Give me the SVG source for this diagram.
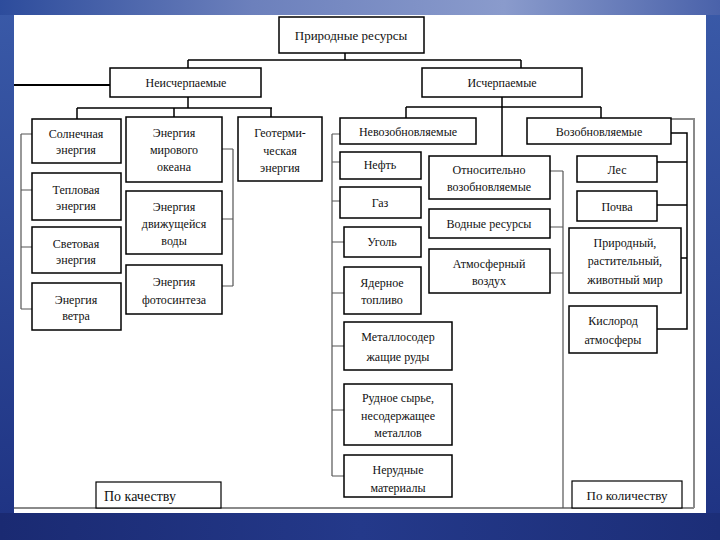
<svg xmlns="http://www.w3.org/2000/svg" width="720" height="540" viewBox="0 0 720 540">
<defs>
<linearGradient id="topg" x1="0" y1="0" x2="1" y2="0">
<stop offset="0" stop-color="#2d4c9c"/>
<stop offset="0.35" stop-color="#6c80bc"/>
<stop offset="0.7" stop-color="#8a9bcc"/>
<stop offset="1" stop-color="#4a62aa"/>
</linearGradient>
<linearGradient id="sideg" x1="0" y1="0" x2="0" y2="1">
<stop offset="0" stop-color="#3a5aa8"/>
<stop offset="1" stop-color="#1e3282"/>
</linearGradient>
<linearGradient id="botg" x1="0" y1="0" x2="1" y2="0">
<stop offset="0" stop-color="#1a2a72"/>
<stop offset="0.5" stop-color="#24398a"/>
<stop offset="1" stop-color="#1c2e78"/>
</linearGradient>
<style>
.b{fill:#fff;stroke:#000;stroke-width:1.5}
.t{font-family:"Liberation Serif","Times New Roman",serif;font-size:12px;fill:#111;text-anchor:middle}
.c{fill:none;stroke:#000;stroke-width:1.5}
.g{fill:none;stroke:#555;stroke-width:1.2}
.f{fill:none;stroke:#8a8a8a;stroke-width:2}
</style>
</defs>
<rect x="0" y="0" width="720" height="540" fill="url(#sideg)"/>
<rect x="0" y="0" width="720" height="15" fill="url(#topg)"/>
<rect x="0" y="513" width="720" height="27" fill="url(#botg)"/>
<rect x="14" y="15" width="692" height="498" fill="#fff"/>

<g id="connectors">
<path class="f" d="M671,119 H694 V508 M14,508 H694"/>
<path class="c" d="M345,53 V60 M188,60 H521 M188,60 V68 M521,60 V68"/>
<path class="c" style="stroke-width:2" d="M14,85 H110"/>
<path class="c" d="M188,97 V108 M77,108 H272 M77,108 V119 M174,108 V117 M271,108 V117"/>
<path class="c" d="M502,97 V156 M406,107 H601 M406,107 V118 M601,107 V118"/>
<path class="g" d="M21,134 V309 M21,134 H32 M21,190 H32 M21,247 H32 M21,309 H32"/>
<path class="g" d="M233,149 V286 M222,149 H233 M222,219 H233 M222,286 H233"/>
<path class="g" d="M332,134 V476 M332,134 H340 M332,162 H340 M332,201 H340 M332,242 H344 M332,293 H344 M332,346 H344 M332,410 H344 M332,476 H344"/>
<path class="g" d="M563,171 V508 M550,171 H563 M550,227 H563 M550,273 H563"/>
<path class="c" d="M671,133 H687 V329 H657 M657,162 H687 M657,205 H687 M681,258 H687"/>
</g>

<g id="n-prirodnye"><rect class="b" x="279" y="17" width="145" height="36"/><text class="t" x="351" y="40" style="font-size:13px">Природные ресурсы</text></g>
<g id="n-neischerp"><rect class="b" x="110" y="68" width="151" height="29"/><text class="t" x="186" y="87">Неисчерпаемые</text></g>
<g id="n-ischerp"><rect class="b" x="422" y="68" width="160" height="29"/><text class="t" x="502" y="87">Исчерпаемые</text></g>

<g id="n-solnech"><rect class="b" x="32" y="119" width="89" height="44"/><text class="t" x="76" y="138">Солнечная</text><text class="t" x="76" y="154">энергия</text></g>
<g id="n-teplo"><rect class="b" x="32" y="173" width="89" height="47"/><text class="t" x="76" y="194">Тепловая</text><text class="t" x="76" y="210">энергия</text></g>
<g id="n-svet"><rect class="b" x="32" y="227" width="89" height="46"/><text class="t" x="76" y="248">Световая</text><text class="t" x="76" y="264">энергия</text></g>
<g id="n-veter"><rect class="b" x="32" y="283" width="89" height="47"/><text class="t" x="76" y="304">Энергия</text><text class="t" x="76" y="320">ветра</text></g>

<g id="n-okean"><rect class="b" x="126" y="117" width="96" height="65"/><text class="t" x="174" y="137">Энергия</text><text class="t" x="174" y="154">мирового</text><text class="t" x="174" y="171">океана</text></g>
<g id="n-voda"><rect class="b" x="126" y="191" width="96" height="63"/><text class="t" x="174" y="211">Энергия</text><text class="t" x="174" y="228">движущейся</text><text class="t" x="174" y="245">воды</text></g>
<g id="n-foto"><rect class="b" x="126" y="265" width="96" height="49"/><text class="t" x="174" y="286">Энергия</text><text class="t" x="174" y="304">фотосинтеза</text></g>
<g id="n-geo"><rect class="b" x="238" y="117" width="84" height="64"/><text class="t" x="280" y="137">Геотерми-</text><text class="t" x="280" y="155">ческая</text><text class="t" x="280" y="172">энергия</text></g>

<g id="n-nevozob"><rect class="b" x="340" y="118" width="136" height="26"/><text class="t" x="408" y="136">Невозобновляемые</text></g>
<g id="n-neft"><rect class="b" x="340" y="152" width="81" height="27"/><text class="t" x="380" y="169">Нефть</text></g>
<g id="n-gaz"><rect class="b" x="340" y="187" width="81" height="31"/><text class="t" x="380" y="207">Газ</text></g>
<g id="n-ugol"><rect class="b" x="344" y="227" width="77" height="30"/><text class="t" x="382" y="246">Уголь</text></g>
<g id="n-yadern"><rect class="b" x="344" y="267" width="77" height="47"/><text class="t" x="382" y="287">Ядерное</text><text class="t" x="382" y="304">топливо</text></g>
<g id="n-metall"><rect class="b" x="344" y="322" width="108" height="48"/><text class="t" x="398" y="341">Металлосодер</text><text class="t" x="398" y="361">жащие руды</text></g>
<g id="n-rudnoe"><rect class="b" x="344" y="384" width="108" height="61"/><text class="t" x="398" y="402">Рудное сырье,</text><text class="t" x="398" y="420">несодержащее</text><text class="t" x="398" y="437">металлов</text></g>
<g id="n-nerud"><rect class="b" x="344" y="455" width="108" height="42"/><text class="t" x="398" y="474">Нерудные</text><text class="t" x="398" y="492">материалы</text></g>

<g id="n-otnos"><rect class="b" x="429" y="156" width="121" height="43"/><text class="t" x="489" y="174">Относительно</text><text class="t" x="489" y="191">возобновляемые</text></g>
<g id="n-vodnye"><rect class="b" x="429" y="209" width="121" height="29"/><text class="t" x="489" y="228">Водные ресурсы</text></g>
<g id="n-atmos"><rect class="b" x="429" y="249" width="121" height="44"/><text class="t" x="489" y="268">Атмосферный</text><text class="t" x="489" y="285">воздух</text></g>

<g id="n-vozob"><rect class="b" x="527" y="118" width="144" height="26"/><text class="t" x="599" y="136">Возобновляемые</text></g>
<g id="n-les"><rect class="b" x="577" y="156" width="80" height="26"/><text class="t" x="617" y="174">Лес</text></g>
<g id="n-pochva"><rect class="b" x="577" y="191" width="80" height="30"/><text class="t" x="617" y="211">Почва</text></g>
<g id="n-mir"><rect class="b" x="569" y="228" width="112" height="65"/><text class="t" x="625" y="247">Природный,</text><text class="t" x="625" y="265">растительный,</text><text class="t" x="625" y="284">животный мир</text></g>
<g id="n-kislorod"><rect class="b" x="569" y="306" width="88" height="47"/><text class="t" x="613" y="325">Кислород</text><text class="t" x="613" y="344">атмосферы</text></g>

<g id="n-kachestvo"><rect class="b" x="96" y="482" width="125" height="26" style="stroke-width:1.2"/><text class="t" x="104" y="501" style="font-size:14px;text-anchor:start">По качеству</text></g>
<g id="n-kolichestvo"><rect class="b" x="572" y="481" width="110" height="27" style="stroke-width:1.2"/><text class="t" x="627" y="500" style="font-size:13px">По количеству</text></g>
</svg>
